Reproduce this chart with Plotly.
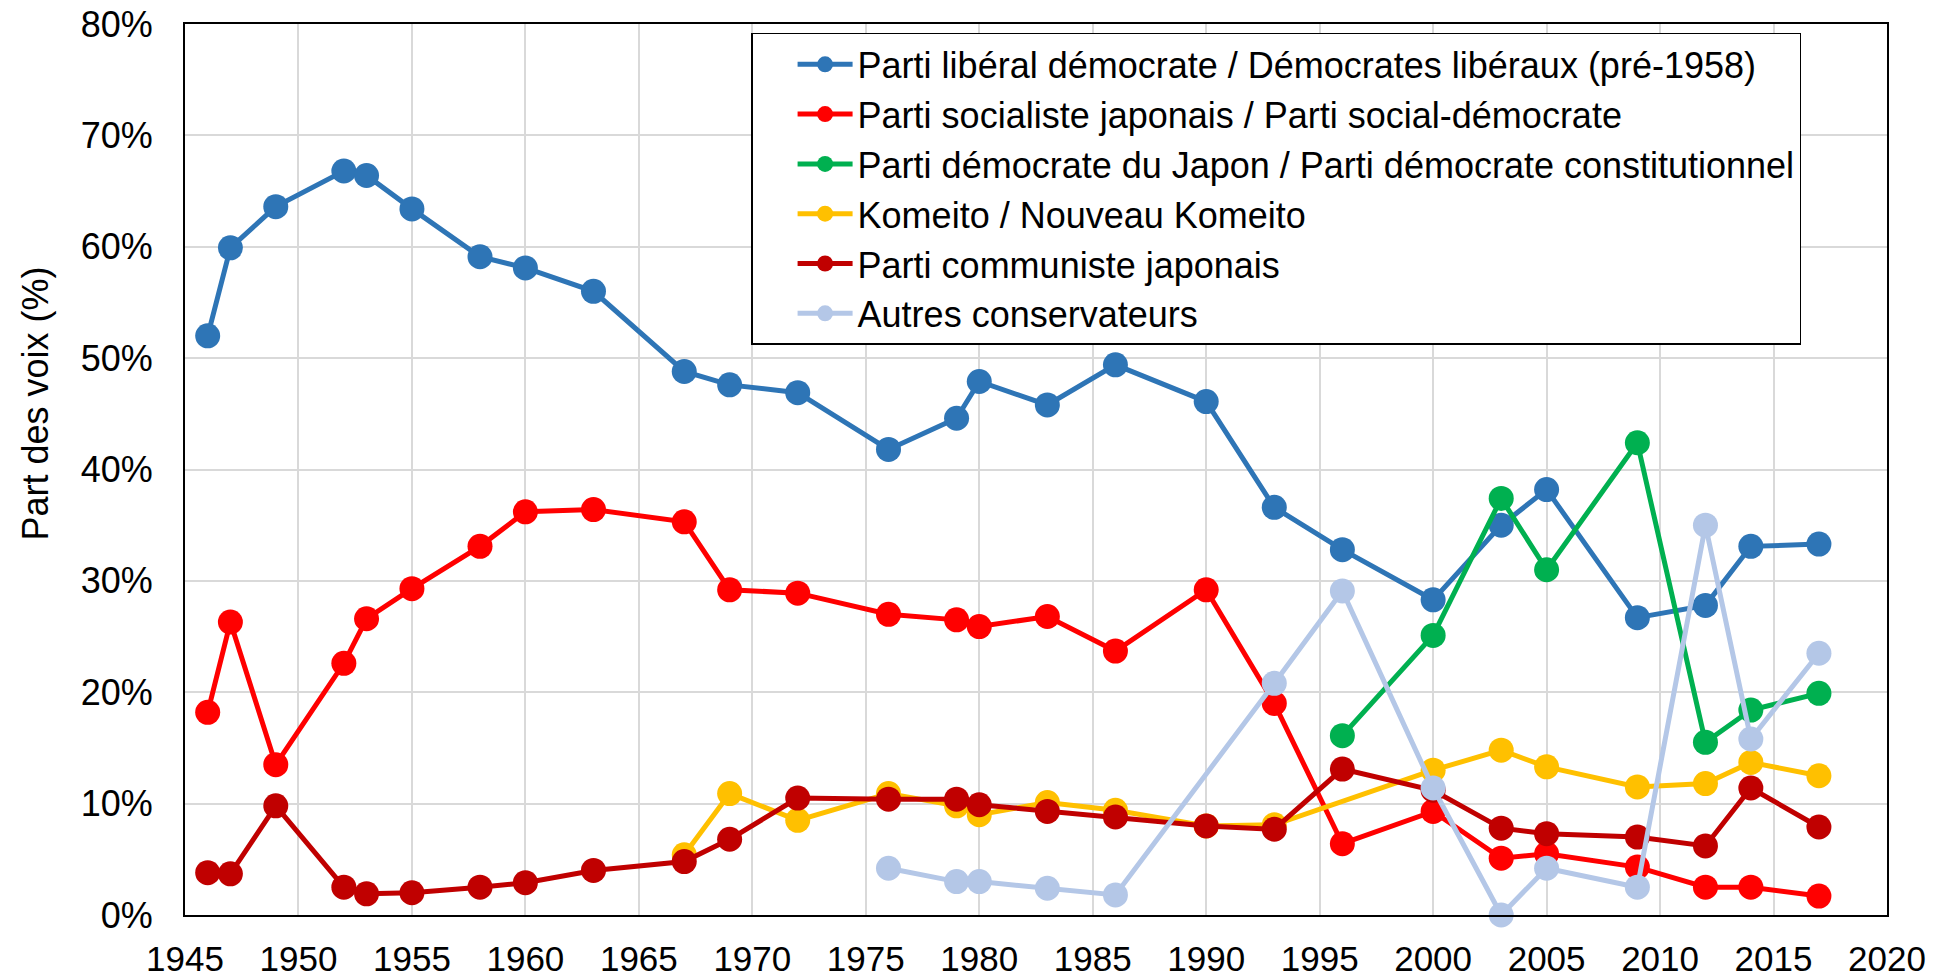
import plotly.graph_objects as go

years = [1946, 1947, 1949, 1952, 1953, 1955, 1958, 1960, 1963, 1967, 1969, 1972,
         1976, 1979, 1980, 1983, 1986, 1990, 1993, 1996, 2000, 2003, 2005, 2009,
         2012, 2014, 2017]

ldp = [52.0, 59.9, 63.6, 66.8, 66.4, 63.4, 59.1, 58.1, 56.0, 48.8, 47.6, 46.9,
       41.8, 44.6, 47.9, 45.8, 49.4, 46.1, 36.6, 32.8, 28.3, 35.0, 38.2, 26.7,
       27.8, 33.1, 33.3]
jsp = [18.2, 26.3, 13.5, 22.6, 26.6, 29.3, 33.1, 36.2, 36.4, 35.3, 29.2, 28.9,
       27.0, 26.5, 25.9, 26.8, 23.7, 29.2, 19.0, 6.4, 9.3, 5.1, 5.5, 4.3,
       2.5, 2.5, 1.7]
dpj = [None] * 19 + [16.1, 25.1, 37.4, 31.0, 42.4, 15.5, 18.4, 19.9]
komeito = [None] * 9 + [5.4, 10.9, 8.5, 10.9, 9.8, 9.0, 10.1, 9.4, 8.0, 8.1,
                        None, 13.0, 14.8, 13.3, 11.5, 11.8, 13.7, 12.5]
jcp = [3.8, 3.7, 9.8, 2.5, 1.9, 2.0, 2.5, 2.9, 4.0, 4.8, 6.8, 10.5,
       10.4, 10.4, 9.9, 9.3, 8.8, 8.0, 7.7, 13.1, 11.2, 7.8, 7.3, 7.0,
       6.2, 11.4, 7.9]
others = [None] * 12 + [4.2, 3.0, 3.0, 2.4, 1.8, None, 20.8, 29.1, 11.4, 0.0,
                        4.2, 2.5, 35.0, 15.8, 23.5]

series_names = [
    "Parti libéral démocrate / Démocrates libéraux (pré-1958)",
    "Parti socialiste japonais / Parti social-démocrate",
    "Parti démocrate du Japon / Parti démocrate constitutionnel",
    "Komeito / Nouveau Komeito",
    "Parti communiste japonais",
    "Autres conservateurs",
]
series_values = [ldp, jsp, dpj, komeito, jcp, others]
series_colors = ["#2E75B6", "#FF0000", "#00B050", "#FFC000", "#C00000", "#B4C7E7"]

y_title = "Part des voix (%)"
x_ticks = list(range(1945, 2021, 5))
y_ticks = list(range(0, 81, 10))

FONT = "Arial, 'Liberation Sans', sans-serif"

fig = go.Figure()
for name, vals, col in zip(series_names, series_values, series_colors):
    fig.add_trace(go.Scatter(
        x=years, y=vals, name=name, mode="lines+markers",
        line=dict(color=col, width=5),
        marker=dict(color=col, size=25, symbol="circle"),
        connectgaps=True, cliponaxis=False,
    ))

fig.update_layout(
    width=1942, height=979,
    paper_bgcolor="white", plot_bgcolor="white",
    margin=dict(l=185, r=55, t=24, b=64, autoexpand=False),
    font=dict(family=FONT, size=36, color="black"),
    showlegend=True,
    legend=dict(
        x=0.3326, y=0.99, xanchor="left", yanchor="top",
        bgcolor="white", bordercolor="black", borderwidth=1.5,
        font=dict(family=FONT, size=36, color="black"),
        itemsizing="trace", itemwidth=55, indentation=40,
    ),
    annotations=[dict(
        text=y_title, textangle=-90, showarrow=False,
        xref="paper", yref="paper", x=-0.0884, y=0.5735,
        xanchor="center", yanchor="middle",
        font=dict(family=FONT, size=36, color="black"),
    )],
)
fig.update_xaxes(
    range=[1945, 2020], tickmode="array", tickvals=x_ticks,
    ticktext=[str(v) for v in x_ticks],
    showgrid=True, gridcolor="#D9D9D9", gridwidth=1.5,
    showline=True, linecolor="black", linewidth=2, mirror=True,
    ticks="outside", ticklen=12, tickcolor="rgba(0,0,0,0)",
    zeroline=False, tickfont=dict(size=35),
)
fig.update_yaxes(
    range=[0, 80], tickmode="array", tickvals=y_ticks,
    ticktext=[f"{v}%" for v in y_ticks],
    showgrid=True, gridcolor="#D9D9D9", gridwidth=1.5,
    showline=True, linecolor="black", linewidth=2, mirror=True,
    ticks="outside", ticklen=23, tickcolor="rgba(0,0,0,0)",
    zeroline=False, tickfont=dict(size=36),
)

fig.write_html("out.html", config={"displayModeBar": False},
               post_script="document.body.style.margin='0px';")
